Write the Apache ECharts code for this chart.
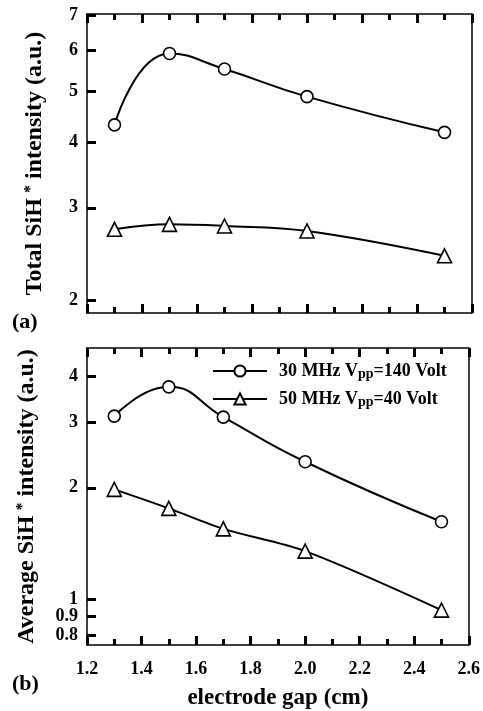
<!DOCTYPE html>
<html><head><meta charset="utf-8">
<script src="https://cdn.jsdelivr.net/npm/echarts@6/dist/echarts.min.js"></script>
<style>html,body{margin:0;padding:0;background:#fff}#c{width:483px;height:711px}</style>
</head><body><div id="c"></div><script>
const gaps = [1.3, 1.5, 1.7, 2.0, 2.5];
const total30 = [4.32, 5.91, 5.52, 4.89, 4.18];
const total50 = [2.73, 2.79, 2.77, 2.71, 2.43];
const avg30 = [3.12, 3.74, 3.10, 2.35, 1.62];
const avg50 = [1.98, 1.76, 1.55, 1.35, 0.936];
const topTicks = [2, 3, 4, 5, 6, 7];
const botTicks = [0.8, 0.9, 1, 2, 3, 4];
const seriesNames = ['30 MHz Vpp=140 Volt', '50 MHz Vpp=40 Volt'];
const legendRich = {
  '30 MHz Vpp=140 Volt': '{f|30 MHz V}{s|pp}{a|=140 Volt}',
  '50 MHz Vpp=40 Volt': '{f|50 MHz V}{s|pp}{a|=40 Volt}'
};

const FONT = 'Liberation Serif';
const chart = echarts.init(document.getElementById('c'), null, {renderer: 'canvas'});

function pairs(xs, ys) { return xs.map((x, i) => [x, ys[i]]); }

function xAxisDef(gridIndex, pos, showLabel, name) {
  return {
    type: 'value', gridIndex: gridIndex, position: pos,
    min: 1.2, max: 2.6, interval: 0.2,
    name: name || '', nameLocation: 'middle', nameGap: 42,
    nameTextStyle: {fontFamily: FONT, fontWeight: 'bold', fontSize: 23, color: '#000'},
    axisLine: {show: true, onZero: false, lineStyle: {color: '#000', width: 1.5}},
    axisTick: {show: true, inside: true, length: 9, lineStyle: {color: '#000', width: 3}},
    minorTick: {show: true, splitNumber: 2, length: 6, lineStyle: {color: '#000', width: 3}},
    axisLabel: {show: showLabel, margin: 15, fontFamily: FONT, fontWeight: 'bold', fontSize: 18, color: '#000',
      formatter: v => v.toFixed(1)},
    splitLine: {show: false}
  };
}

function yAxisDef(gridIndex, min, max, ticks, nameRich) {
  return {
    type: 'log', gridIndex: gridIndex, logBase: 10, min: min, max: max,
    position: 'left',
    name: nameRich, nameLocation: 'middle', nameGap: 40, nameRotate: 90,
    nameTextStyle: {fontFamily: FONT, fontWeight: 'bold', fontSize: 24, color: '#000',
      rich: {
        n: {fontFamily: FONT, fontWeight: 'bold', fontSize: 24, color: '#000', lineHeight: 24},
        sup: {fontFamily: FONT, fontWeight: 'bold', fontSize: 16, color: '#000', verticalAlign: 'top', lineHeight: 16, padding: [0, 0, 14, 5]}
      }},
    axisLine: {show: true, onZero: false, lineStyle: {color: '#000', width: 1.5}},
    axisTick: {show: true, inside: true, length: 9, customValues: ticks, lineStyle: {color: '#000', width: 3}},
    axisLabel: {show: true, margin: 9, customValues: ticks, fontFamily: FONT, fontWeight: 'bold', fontSize: 18, color: '#000',
      formatter: v => String(v)},
    minorTick: {show: false},
    splitLine: {show: false}
  };
}

function rightAxisDef(gridIndex, min, max) {
  return {
    type: 'log', gridIndex: gridIndex, logBase: 10, min: min, max: max, position: 'right',
    axisLine: {show: true, onZero: false, lineStyle: {color: '#000', width: 1.5}},
    axisTick: {show: false}, axisLabel: {show: false}, splitLine: {show: false}, minorTick: {show: false}
  };
}

function lineSeries(name, xi, yi, data, symbol, size, smooth) {
  return {
    type: 'line', name: name, xAxisIndex: xi, yAxisIndex: yi,
    data: data, smooth: smooth, symbol: symbol, symbolSize: size,
    showAllSymbol: true,
    lineStyle: {color: '#000', width: 2},
    itemStyle: {color: '#fff', borderColor: '#000', borderWidth: 1.6},
    z: 3
  };
}

const option = {
  animation: false,
  backgroundColor: '#fff',
  grid: [
    {left: 87, right: 11, top: 14, height: 299, show: false},
    {left: 87, right: 11, top: 348, height: 297, show: false}
  ],
  xAxis: [
    xAxisDef(0, 'bottom', false, ''),
    xAxisDef(0, 'top', false, ''),
    xAxisDef(1, 'bottom', true, 'electrode gap (cm)'),
    xAxisDef(1, 'top', false, '')
  ],
  yAxis: [
    yAxisDef(0, 1.89, 7.03, topTicks, '{n|Total SiH}{sup|*}{n| intensity (a.u.)}'),
    yAxisDef(1, 0.754, 4.76, botTicks, '{n|Average SiH}{sup|*}{n| intensity (a.u.)}'),
    rightAxisDef(0, 1.89, 7.03),
    rightAxisDef(1, 0.754, 4.76)
  ],
  legend: {
    data: seriesNames, orient: 'vertical', left: 207, top: 352,
    itemWidth: 54, itemHeight: 14, itemGap: 4,
    formatter: n => legendRich[n],
    textStyle: {
      rich: {
        f: {fontFamily: FONT, fontWeight: 'bold', fontSize: 18, color: '#000', padding: [0, 0, 0, 7], lineHeight: 20},
        a: {fontFamily: FONT, fontWeight: 'bold', fontSize: 18, color: '#000', lineHeight: 20},
        s: {fontFamily: FONT, fontWeight: 'bold', fontSize: 14, color: '#000', verticalAlign: 'bottom', lineHeight: 14, padding: [10, 0, 0, 0]}
      }
    }
  },
  series: [
    lineSeries(seriesNames[0], 0, 0, pairs(gaps, total30), 'circle', 12, 0.5),
    lineSeries(seriesNames[1], 0, 0, pairs(gaps, total50), 'triangle', 14, 0.4),
    lineSeries(seriesNames[0], 2, 1, pairs(gaps, avg30), 'circle', 12, 0.5),
    lineSeries(seriesNames[1], 2, 1, pairs(gaps, avg50), 'triangle', 14, 0.3)
  ],
  graphic: [
    {type: 'text', left: 12, top: 311, style: {text: '(a)', font: 'bold 22px "Liberation Serif"', fill: '#000'}},
    {type: 'text', left: 12, top: 673, style: {text: '(b)', font: 'bold 22px "Liberation Serif"', fill: '#000'}}
  ]
};
chart.setOption(option);
</script></body></html>
